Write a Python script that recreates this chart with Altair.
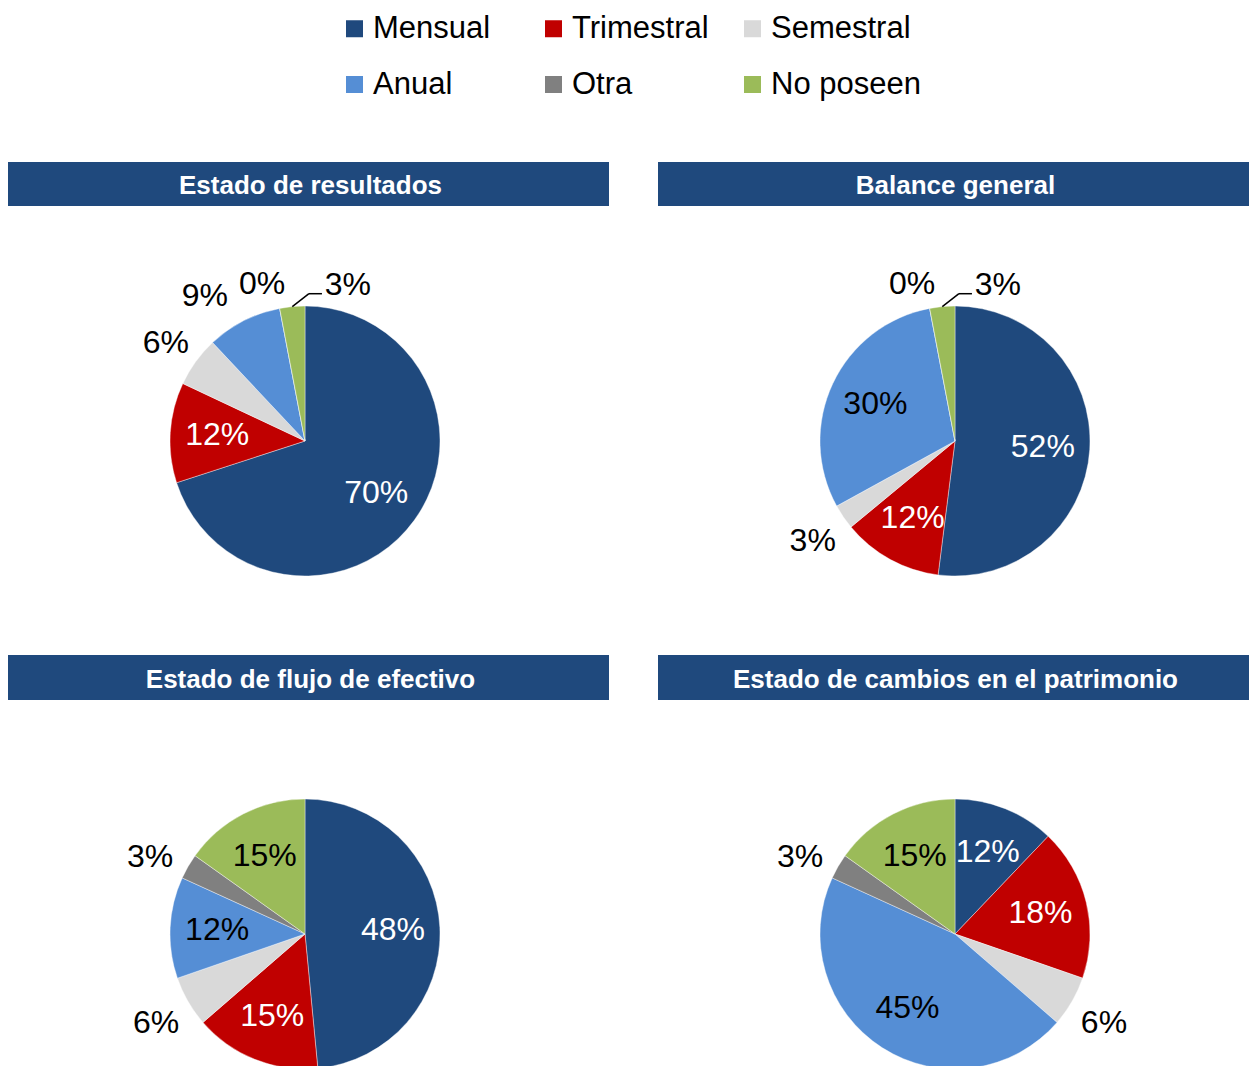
import math
import altair as alt
import pandas as pd

# ---------------- data ----------------
categories = ["Mensual", "Trimestral", "Semestral", "Anual", "Otra", "No poseen"]
colors = ["#1F497D", "#C00000", "#D9D9D9", "#558ED5", "#808080", "#9BBB59"]
panels = [
    "Estado de resultados",
    "Balance general",
    "Estado de flujo de efectivo",
    "Estado de cambios en el patrimonio",
]
resultados = [70, 12, 6, 9, 0, 3]
balance = [52, 12, 3, 30, 0, 3]
flujo = [48, 15, 6, 12, 3, 15]
patrimonio = [12, 18, 6, 45, 3, 15]
series = [resultados, balance, flujo, patrimonio]

rows = []
for p, vals in zip(panels, series):
    for i, (c, v) in enumerate(zip(categories, vals)):
        rows.append({"panel": p, "cat": c, "idx": i, "value": v, "label": f"{v}%"})
df = pd.DataFrame(rows)

# ---------------- layout ----------------
W, H = 1249, 1066
R = 135
R_IN = 88
FONT = "Liberation Sans"
LBL = 32
layout = {
    panels[0]: dict(cx=305, cy=441, x0=8, x1=609, y0=162, y1=206),
    panels[1]: dict(cx=955, cy=441, x0=658, x1=1249, y0=162, y1=206),
    panels[2]: dict(cx=305, cy=934, x0=8, x1=609, y0=655, y1=700),
    panels[3]: dict(cx=955, cy=934, x0=658, x1=1249, y0=655, y1=700),
}

color_scale = alt.Scale(domain=categories, range=colors)
legend = alt.Legend(
    title=None, orient="none", legendX=339, legendY=13, columns=3,
    direction="horizontal", gridAlign="all", symbolType="square",
    symbolSize=289, symbolStrokeWidth=0,
    labelFontSize=31, labelFont=FONT, labelColor="black", labelOffset=3,
    columnPadding=15, rowPadding=24, labelLimit=400, padding=0,
)

theta = alt.Theta("value:Q", stack="normalize")
order = alt.Order("idx:Q", sort="ascending")

layers = []
seg_rows = []
for p, vals in zip(panels, series):
    L = layout[p]
    base = alt.Chart(df).transform_filter(alt.datum.panel == p)

    # header bar + title
    hdr = alt.Chart(pd.DataFrame({"t": [p]}))
    layers.append(hdr.mark_rect(color="#1F497D").encode(
        x=alt.value(L["x0"]), x2=alt.value(L["x1"]),
        y=alt.value(L["y0"]), y2=alt.value(L["y1"])))
    layers.append(hdr.mark_text(font=FONT, fontSize=26, fontWeight="bold",
                                color="white", align="center", baseline="middle").encode(
        x=alt.value((L["x0"] + L["x1"]) / 2 + 2), y=alt.value((L["y0"] + L["y1"]) / 2 + 2),
        text="t:N"))

    # pie
    layers.append(base.mark_arc(outerRadius=R, stroke="white", strokeWidth=0.4).encode(
        theta=theta, order=order,
        color=alt.Color("cat:N", scale=color_scale, legend=legend),
        x=alt.value(L["cx"]), y=alt.value(L["cy"])))

    # inside labels (>= 10%)
    layers.append(base.transform_calculate(
        lab="datum.value >= 10 ? datum.label : ''").mark_text(
        radius=R_IN, font=FONT, fontSize=LBL, align="center", baseline="middle").encode(
        theta=theta, order=order, text="lab:N",
        color=alt.condition("datum.cat == 'Mensual' || datum.cat == 'Trimestral'",
                            alt.value("white"), alt.value("black")),
        x=alt.value(L["cx"]), y=alt.value(L["cy"])))

    # outside labels (< 10%), per category nudges like the original's label placement
    outside = [
        (["Semestral"], 172, 0, 3),
        (["Anual"], 172, -22, 8),
        (["Otra"], 165, -12, 5),
        (["No poseen"], 160, 58, 3),
    ]
    for cats, rr, dx, dy in outside:
        test = " || ".join(f"datum.cat == '{c}'" for c in cats)
        layers.append(base.transform_calculate(
            lab=f"(datum.value < 10 && ({test})) ? datum.label : ''").mark_text(
            radius=rr, dx=dx, dy=dy, font=FONT, fontSize=LBL, color="black",
            align="center", baseline="middle").encode(
            theta=theta, order=order, text="lab:N",
            x=alt.value(L["cx"]), y=alt.value(L["cy"])))

    # leader line for a small "No poseen" slice, derived from the slice angle
    tot = sum(vals)
    v_np = vals[-1]
    if v_np < 10:
        frac = (tot - v_np / 2) / tot
        a = 2 * math.pi * frac
        sx, sy = L["cx"] + R * math.sin(a), L["cy"] - R * math.cos(a)
        lx, ly = L["cx"] + 160 * math.sin(a) + 58, L["cy"] - 160 * math.cos(a) + 3
        ex, ey = lx - 26, ly + 9
        kx = ex - 13
        seg_rows.append({"x": sx, "y": sy, "x2": kx, "y2": ey})
        seg_rows.append({"x": kx, "y": ey, "x2": ex, "y2": ey})

if seg_rows:
    layers.append(alt.Chart(pd.DataFrame(seg_rows)).mark_rule(color="black", strokeWidth=1.5).encode(
        x=alt.X("x:Q", scale=None), y=alt.Y("y:Q", scale=None),
        x2="x2:Q", y2="y2:Q"))

chart = alt.layer(*layers).properties(
    width=W, height=H, autosize=alt.AutoSizeParams(type="none"), padding=0,
    background="white",
).configure_view(stroke=None)

chart.save("out.html", embed_options={"renderer": "svg", "actions": False})
